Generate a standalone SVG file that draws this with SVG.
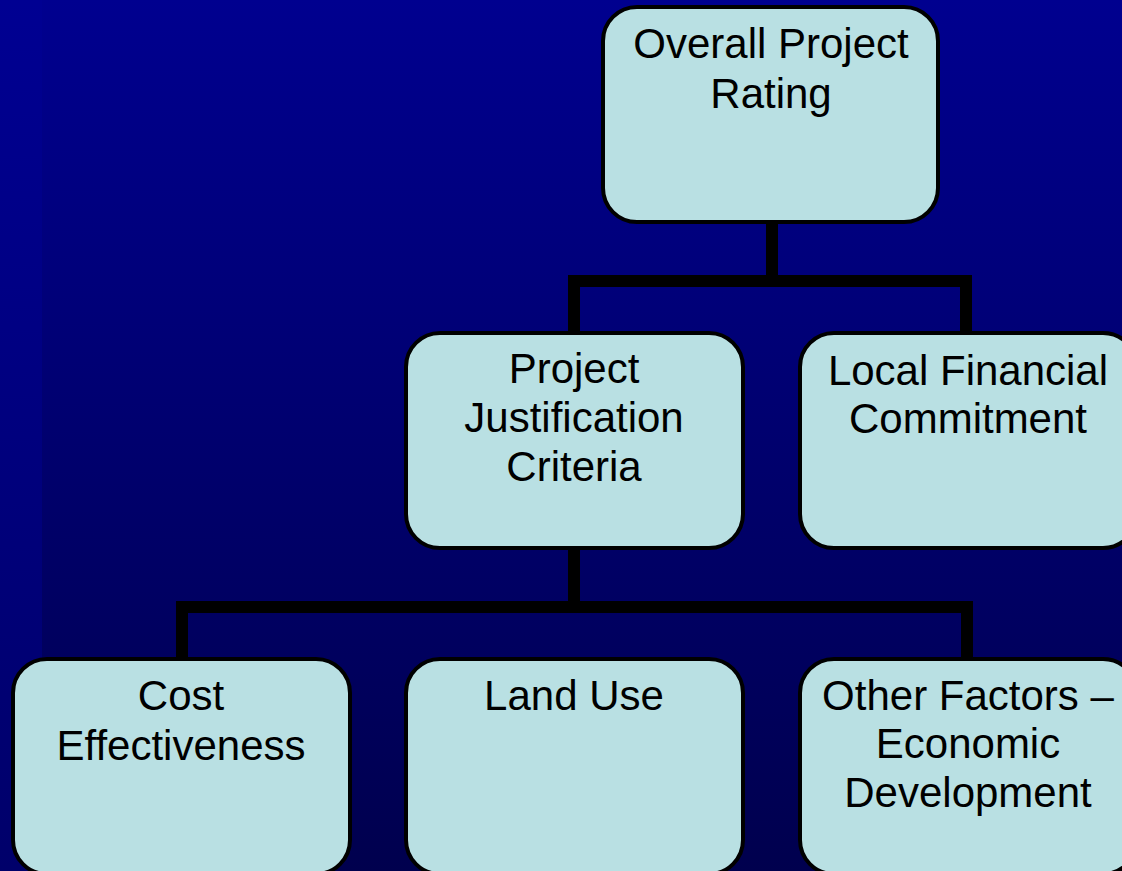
<svg xmlns="http://www.w3.org/2000/svg" width="1122" height="871" viewBox="0 0 1122 871">
  <defs>
    <linearGradient id="bg" x1="0" y1="0" x2="0" y2="1">
      <stop offset="0" stop-color="#00008F"/>
      <stop offset="1" stop-color="#00004E"/>
    </linearGradient>
    <linearGradient id="strip" x1="0" y1="0" x2="0" y2="1">
      <stop offset="0" stop-color="#000092"/>
      <stop offset="1" stop-color="#00006A"/>
    </linearGradient>
  </defs>
  <style>
    .box { fill: #B9E0E3; stroke: #000000; stroke-width: 4; }
    .lbl { font-family: "Liberation Sans", Arial, sans-serif; font-size: 42px; fill: #000000; text-anchor: middle; }
    .conn { fill: none; stroke: #000000; stroke-width: 12; stroke-linejoin: miter; }
  </style>
  <rect x="0" y="0" width="1122" height="871" fill="url(#bg)"/>
  <rect x="0" y="0" width="42" height="871" fill="url(#strip)"/>

  <g id="connectors">
    <path class="conn" d="M772,223 V281"/>
    <path class="conn" d="M574,331 V281 H966 V331"/>
    <path class="conn" d="M574,549 V607"/>
    <path class="conn" d="M182,657 V607 H967 V657"/>
  </g>

  <g id="node-overall">
    <rect class="box" x="603" y="7" width="335" height="215" rx="34" ry="34"/>
    <text class="lbl" x="771" y="58">Overall Project</text>
    <text class="lbl" x="771" y="108">Rating</text>
  </g>

  <g id="node-justification">
    <rect class="box" x="406" y="333" width="337" height="215" rx="34" ry="34"/>
    <text class="lbl" x="574" y="383">Project</text>
    <text class="lbl" x="574" y="432">Justification</text>
    <text class="lbl" x="574" y="481">Criteria</text>
  </g>

  <g id="node-local">
    <rect class="box" x="800" y="333" width="337" height="215" rx="34" ry="34"/>
    <text class="lbl" x="968" y="385">Local Financial</text>
    <text class="lbl" x="968" y="433">Commitment</text>
  </g>

  <g id="node-cost">
    <rect class="box" x="13" y="659" width="337" height="215" rx="34" ry="34"/>
    <text class="lbl" x="181" y="710">Cost</text>
    <text class="lbl" x="181" y="760">Effectiveness</text>
  </g>

  <g id="node-landuse">
    <rect class="box" x="406" y="659" width="337" height="215" rx="34" ry="34"/>
    <text class="lbl" x="574" y="710">Land Use</text>
  </g>

  <g id="node-other">
    <rect class="box" x="800" y="659" width="337" height="215" rx="34" ry="34"/>
    <text class="lbl" x="968" y="710">Other Factors –</text>
    <text class="lbl" x="968" y="758">Economic</text>
    <text class="lbl" x="968" y="807">Development</text>
  </g>
</svg>
